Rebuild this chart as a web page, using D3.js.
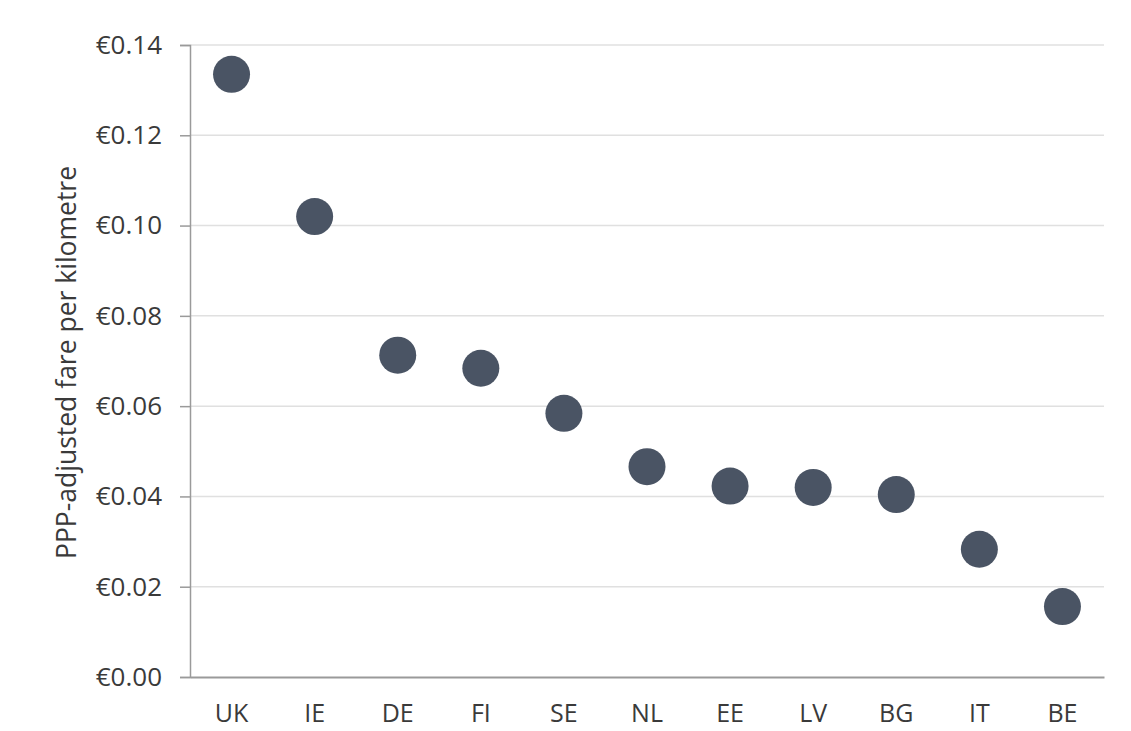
<!DOCTYPE html>
<html>
<head>
<meta charset="utf-8">
<script src="https://cdn.jsdelivr.net/npm/d3@7"></script>
<style>
  html, body { margin: 0; padding: 0; background: #fff; }
  svg text { font-family: "Open Sans", "Noto Sans", sans-serif; fill: #3a3a3a; }
</style>
</head>
<body>
<svg id="chart" width="1131" height="731"></svg>
<script>
// Country codes along the x axis
const countries = ["UK", "IE", "DE", "FI", "SE", "NL", "EE", "LV", "BG", "IT", "BE"];
// PPP-adjusted fare per kilometre (EUR)
const fares = [0.1335, 0.1020, 0.0713, 0.0684, 0.0584, 0.0466, 0.0423, 0.0420, 0.0404, 0.0283, 0.0156];
// Y axis tick values
const yTicks = [0, 0.02, 0.04, 0.06, 0.08, 0.10, 0.12, 0.14];

const svg = d3.select("#chart");
const margin = { left: 190, right: 27, top: 45, bottom: 54 };
const W = 1131, H = 731;

const x = d3.scaleBand()
  .domain(countries)
  .range([margin.left, W - margin.right])
  .paddingInner(0).paddingOuter(0);

const y = d3.scaleLinear()
  .domain([0, 0.14])
  .range([H - margin.bottom, margin.top]);

// horizontal gridlines
svg.append("g")
  .selectAll("line")
  .data(yTicks.filter(d => d > 0))
  .join("line")
  .attr("x1", margin.left)
  .attr("x2", W - margin.right)
  .attr("y1", d => y(d))
  .attr("y2", d => y(d))
  .attr("stroke", "#e0e0e0")
  .attr("stroke-width", 1.5);

// y axis
const yAxis = svg.append("g")
  .attr("transform", `translate(${margin.left},0)`)
  .call(d3.axisLeft(y).tickValues(yTicks).tickFormat(d => "€" + d.toFixed(2)).tickSize(10).tickPadding(18));
yAxis.select(".domain").attr("stroke", "#9a9a9a").attr("stroke-width", 1.5);
yAxis.selectAll(".tick line").attr("stroke", "#9a9a9a").attr("stroke-width", 1.5);
yAxis.selectAll(".tick text").attr("font-size", 26).attr("fill", "#3a3a3a");

// x axis
const xAxis = svg.append("g")
  .attr("transform", `translate(0,${H - margin.bottom})`)
  .call(d3.axisBottom(x).tickSize(0).tickPadding(27));
xAxis.select(".domain").attr("stroke", "#9a9a9a").attr("stroke-width", 2);
xAxis.selectAll(".tick text").attr("font-size", 25).attr("fill", "#3a3a3a");

// points
svg.append("g")
  .selectAll("circle")
  .data(countries.map((c, i) => ({ c, v: fares[i] })))
  .join("circle")
  .attr("cx", d => x(d.c) + x.bandwidth() / 2)
  .attr("cy", d => y(d.v))
  .attr("r", 18.5)
  .attr("fill", "#4a5464");

// y axis title
svg.append("text")
  .attr("transform", `translate(76,${(160 + 565) / 2}) rotate(-90)`)
  .attr("text-anchor", "middle")
  .attr("font-size", 26.5)
  .text("PPP-adjusted fare per kilometre");
</script>
</body>
</html>
